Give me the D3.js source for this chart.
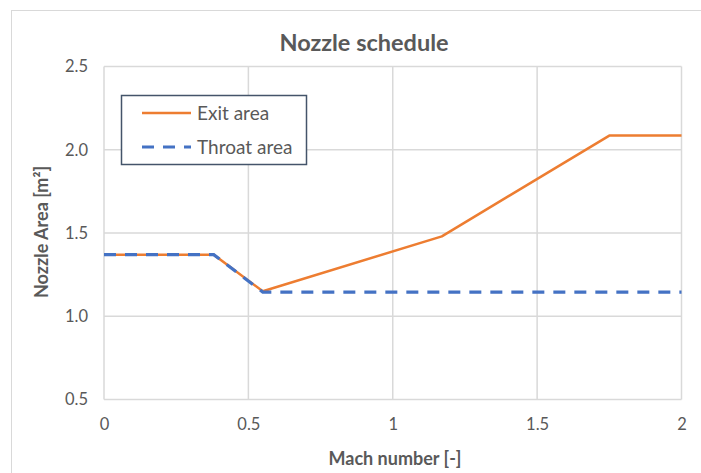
<!DOCTYPE html>
<html>
<head>
<meta charset="utf-8">
<script src="https://cdn.jsdelivr.net/npm/d3@7"></script>
<style>
  html, body { margin: 0; padding: 0; background: #fff; }
  svg { display: block; }
  text { font-family: Lato, "Open Sans", sans-serif; fill: #595959; }
</style>
</head>
<body>
<svg id="chart" width="701" height="473"></svg>
<script>
// Nozzle schedule: exit and throat area against flight Mach number
const machNumbers = [0, 0.38, 0.55, 1.17, 1.75, 2.0];
const exitArea    = [1.37, 1.37, 1.15, 1.48, 2.085, 2.085];
const throatArea  = [1.37, 1.37, 1.145, 1.145, 1.145, 1.145];
const xTicks = [0, 0.5, 1, 1.5, 2];
const yTicks = [0.5, 1.0, 1.5, 2.0, 2.5];
const seriesNames = ["Exit area", "Throat area"];

const svg = d3.select("#chart");
const W = 701, H = 473;
const plot = { left: 104, right: 681.5, top: 66.5, bottom: 399.5 };

// outer chart frame
svg.append("rect")
  .attr("x", 11.5).attr("y", 10.5)
  .attr("width", W + 20).attr("height", H + 20)
  .attr("fill", "#fff").attr("stroke", "#d9d9d9").attr("stroke-width", 1);

const x = d3.scaleLinear().domain([0, 2]).range([plot.left, plot.right]);
const y = d3.scaleLinear().domain([0.5, 2.5]).range([plot.bottom, plot.top]);

// gridlines
const grid = svg.append("g").attr("stroke", "#d9d9d9").attr("stroke-width", 1.5);
grid.selectAll("line.v").data(xTicks).join("line")
  .attr("x1", d => x(d)).attr("x2", d => x(d))
  .attr("y1", plot.top).attr("y2", plot.bottom);
grid.selectAll("line.h").data(yTicks).join("line")
  .attr("x1", plot.left).attr("x2", plot.right)
  .attr("y1", d => y(d)).attr("y2", d => y(d));

// axes (labels only, Excel-style)
const xAxis = svg.append("g")
  .attr("transform", `translate(0,${plot.bottom + 16})`)
  .call(d3.axisBottom(x).tickValues(xTicks).tickSize(0).tickFormat(d3.format("")));
xAxis.select(".domain").remove();
xAxis.selectAll("text").attr("font-size", 16.5).attr("fill", "#595959")
  .style("font-family", "Lato, sans-serif");

const yAxis = svg.append("g")
  .attr("transform", `translate(${plot.left - 13},0)`)
  .call(d3.axisLeft(y).tickValues(yTicks).tickSize(0).tickFormat(d3.format(".1f")));
yAxis.select(".domain").remove();
yAxis.selectAll("text").attr("font-size", 16.5).attr("fill", "#595959")
  .style("font-family", "Lato, sans-serif");

// series lines
const pts = vals => machNumbers.map((m, i) => [m, vals[i]]);
const line = d3.line().x(d => x(d[0])).y(d => y(d[1]));

svg.append("path").datum(pts(exitArea))
  .attr("d", line).attr("fill", "none")
  .attr("stroke", "#ED7D31").attr("stroke-width", 2.5)
  .attr("stroke-linejoin", "round");

svg.append("path").datum(pts(throatArea))
  .attr("d", line).attr("fill", "none")
  .attr("stroke", "#4472C4").attr("stroke-width", 3.2)
  .attr("stroke-dasharray", "12,9");

// title
svg.append("text")
  .attr("x", 364).attr("y", 51).attr("text-anchor", "middle")
  .attr("font-size", 23.5).attr("font-weight", "bold")
  .text("Nozzle schedule");

// axis titles
svg.append("text")
  .attr("x", 395).attr("y", 465).attr("text-anchor", "middle")
  .attr("font-size", 18).attr("font-weight", "bold")
  .text("Mach number [-]");

svg.append("text")
  .attr("transform", "translate(48,232) rotate(-90)")
  .attr("text-anchor", "middle")
  .attr("font-size", 18).attr("font-weight", "bold")
  .text("Nozzle Area [m²]");

// legend
const legend = svg.append("g");
legend.append("rect")
  .attr("x", 121.5).attr("y", 95.5).attr("width", 185).attr("height", 69)
  .attr("fill", "#fff").attr("stroke", "#44546A").attr("stroke-width", 1.5);
const legendStyles = [
  { color: "#ED7D31", width: 2.5, dash: null },
  { color: "#4472C4", width: 3.2, dash: "12,9" }
];
seriesNames.forEach((name, i) => {
  const ly = 113 + i * 34;
  legend.append("line")
    .attr("x1", 142).attr("x2", 191).attr("y1", ly).attr("y2", ly)
    .attr("stroke", legendStyles[i].color)
    .attr("stroke-width", legendStyles[i].width)
    .attr("stroke-dasharray", legendStyles[i].dash);
  legend.append("text")
    .attr("x", 197).attr("y", ly + 6.5)
    .attr("font-size", 19)
    .text(name);
});
</script>
</body>
</html>
